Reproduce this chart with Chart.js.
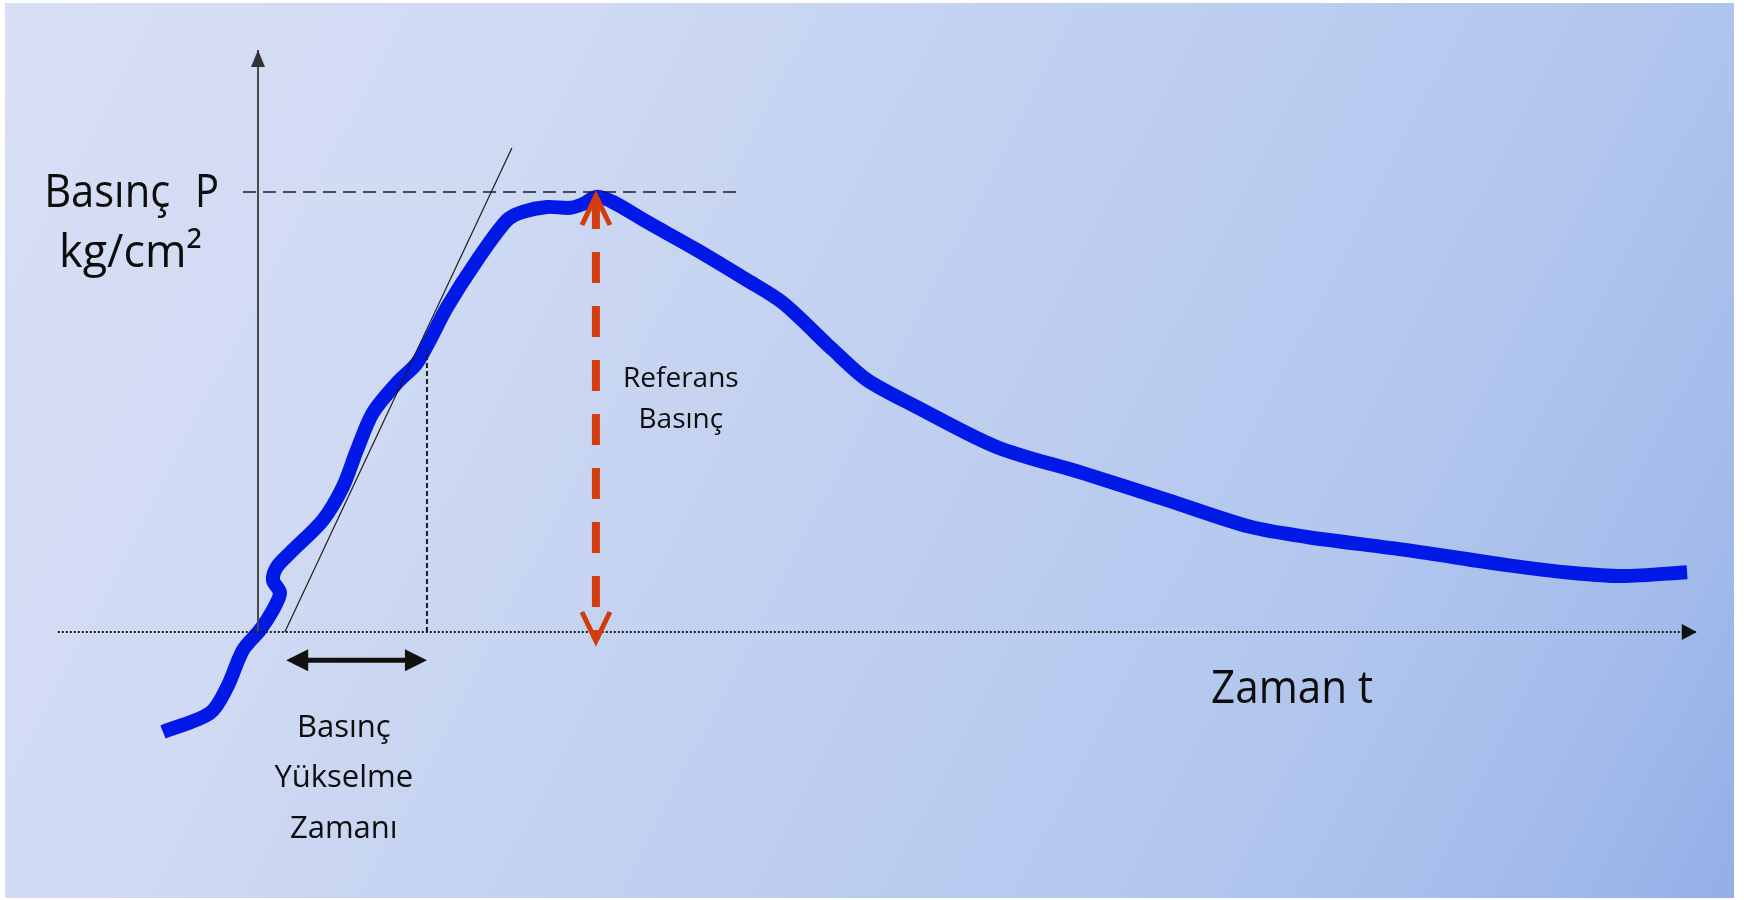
<!DOCTYPE html>
<html lang="tr">
<head>
<meta charset="utf-8">
<title>Basınç - Zaman</title>
<script src="https://cdn.jsdelivr.net/npm/chart.js@4.4.1/dist/chart.umd.min.js"></script>
<style>
  html, body { margin: 0; padding: 0; background: #fff; }
  #chart { display: block; }
</style>
</head>
<body>
<canvas id="chart" width="1744" height="900"></canvas>
<script>
// pressure trace (t and P in picture units, P = 100 at the reference level)
const time = [-21.6, -10.9, -7.0, -3.4, 0.5, 3.4, 5.0, 3.4, 4.3, 7.3, 14.8, 19.3, 22.5, 26.1, 31.6,
  36.1, 39.1, 43.0, 49.8, 56.6, 60.2, 65.7, 70.9, 73.9, 77.0, 80.7, 88.4, 99.8, 111.1, 119.3,
  130.7, 138.4, 149.8, 168.0, 187.5, 206.6, 225.5, 238.4, 261.1, 283.9, 298.9, 310.2, 324.8];
const pressure = [-22.7, -18.4, -12.5, -4.1, 0.5, 5.0, 8.9, 11.8, 14.8, 18.0, 25.5, 33.0, 41.4, 49.8, 56.6,
  61.1, 66.4, 73.9, 84.5, 93.6, 95.5, 96.6, 96.4, 97.3, 98.9, 97.7, 93.2, 86.8, 80.0, 74.8,
  64.1, 57.3, 51.1, 42.0, 36.1, 30.0, 23.9, 21.6, 18.6, 15.2, 13.4, 12.7, 13.6];

const referencePressure = 100;
const peakTime = 76.8;
const riseStart = 6.4;
const riseEnd = 38.4;
const riseEndPressure = 64.1;
const tangentTime = [6.1, 57.7];
const tangentPressure = [0, 110];
const axisTime = [-45.5, 327];
const axisPressure = [0, 132.3];
const levelTime = [-3.4, 108.9];

const yTitle = ['Basınç', 'P'];
const yUnit = 'kg/cm²';
const xTitle = 'Zaman t';
const riseLabel = ['Basınç', 'Yükselme', 'Zamanı'];
const refLabel = ['Referans', 'Basınç'];

const BLUE = '#0019e6';
const RED = '#d33c0c';
const INK = '#0d0d0d';
const FONT = '"Open Sans", sans-serif';

function seg(xs, ys) {
  return xs.map((v, i) => ({ x: v, y: ys[i] }));
}

function head(ctx, tipX, tipY, dx, dy, len, half) {
  const bx = tipX - dx * len, by = tipY - dy * len;
  ctx.beginPath();
  ctx.moveTo(tipX, tipY);
  ctx.lineTo(bx - dy * half, by + dx * half);
  ctx.lineTo(bx + dy * half, by - dx * half);
  ctx.closePath();
  ctx.fill();
}

function text(ctx, str, x, y, size, width, align) {
  ctx.font = '500 ' + size + 'px ' + FONT;
  ctx.textAlign = align;
  ctx.textBaseline = 'alphabetic';
  ctx.fillText(str, x, y, width);
}

const backdrop = {
  id: 'backdrop',
  beforeDraw(chart) {
    const { ctx, width, height } = chart;
    ctx.save();
    ctx.fillStyle = '#fff';
    ctx.fillRect(0, 0, width, height);
    const g = ctx.createLinearGradient(0, 0, width, height);
    g.addColorStop(0, '#d8dff5');
    g.addColorStop(0.25, '#d0daf3');
    g.addColorStop(0.5, '#c0d0f0');
    g.addColorStop(0.75, '#b2c6ee');
    g.addColorStop(0.9, '#a2bbeb');
    g.addColorStop(1, '#92aee8');
    ctx.fillStyle = g;
    ctx.fillRect(5, 3, width - 15, height - 5);
    ctx.restore();
  }
};

const notes = {
  id: 'notes',
  afterDatasetsDraw(chart) {
    const { ctx } = chart;
    const x = chart.scales.x, y = chart.scales.y;
    const px = v => x.getPixelForValue(v);
    const py = v => y.getPixelForValue(v);
    ctx.save();

    // axis arrow heads
    ctx.fillStyle = '#333';
    head(ctx, px(0), py(axisPressure[1]), 0, -1, 17, 7);
    ctx.fillStyle = '#111';
    head(ctx, px(axisTime[1]), py(0), 1, 0, 15, 8);

    // rise time double arrow
    const ay = py(-6.4), a0 = px(riseStart), a1 = px(riseEnd);
    ctx.strokeStyle = '#111';
    ctx.fillStyle = '#111';
    ctx.lineWidth = 5;
    ctx.beginPath();
    ctx.moveTo(a0 + 18, ay);
    ctx.lineTo(a1 - 18, ay);
    ctx.stroke();
    head(ctx, a0, ay, -1, 0, 22, 11);
    head(ctx, a1, ay, 1, 0, 22, 11);

    // reference pressure arrow
    const rx = px(peakTime), top = py(referencePressure) + 4, bot = py(0) + 9;
    ctx.strokeStyle = RED;
    ctx.lineWidth = 8;
    ctx.setLineDash([31, 23]);
    ctx.beginPath();
    ctx.moveTo(rx, top + 2);
    ctx.lineTo(rx, bot - 2);
    ctx.stroke();
    ctx.setLineDash([]);
    ctx.lineWidth = 5;
    ctx.lineJoin = 'miter';
    ctx.beginPath();
    ctx.moveTo(rx - 14, top + 29);
    ctx.lineTo(rx, top);
    ctx.lineTo(rx + 14, top + 29);
    ctx.moveTo(rx - 14, bot - 29);
    ctx.lineTo(rx, bot);
    ctx.lineTo(rx + 14, bot - 29);
    ctx.stroke();

    // labels
    ctx.fillStyle = INK;
    text(ctx, yTitle[0], px(-48.6), py(96.6), 46, 126, 'left');
    text(ctx, yTitle[1], px(-14.3), py(96.6), 46, 24, 'left');
    text(ctx, yUnit, px(-45.2), py(83.0), 46, 143, 'left');
    text(ctx, xTitle, px(216.6), py(-16.1), 46, 162, 'left');
    text(ctx, riseLabel[0], px(19.5), py(-23.9), 31, 100, 'center');
    text(ctx, riseLabel[1], px(19.5), py(-35.2), 31, 150, 'center');
    text(ctx, riseLabel[2], px(19.5), py(-46.8), 31, 117, 'center');
    text(ctx, refLabel[0], px(96.1), py(55.7), 28, 122, 'center');
    text(ctx, refLabel[1], px(96.1), py(46.4), 28, 90, 'center');
    ctx.restore();
  }
};

const flat = { pointRadius: 0, tension: 0, fill: false };

new Chart(document.getElementById('chart'), {
  type: 'line',
  data: {
    datasets: [
      {
        label: 'Basınç',
        data: seg(time, pressure),
        borderColor: BLUE,
        borderWidth: 14,
        borderCapStyle: 'butt',
        borderJoinStyle: 'round',
        pointRadius: 0,
        tension: 0.3,
        order: 9
      },
      { ...flat, data: seg(axisTime, [0, 0]), borderColor: '#1e1e1e', borderWidth: 2, borderDash: [2, 2], order: 1 },
      { ...flat, data: seg([0, 0], axisPressure), borderColor: '#4a4a4a', borderWidth: 2, order: 1 },
      { ...flat, data: seg(levelTime, [referencePressure, referencePressure]), borderColor: '#1e1e1e', borderWidth: 1.6, borderDash: [13, 7], order: 1 },
      { ...flat, data: seg(tangentTime, tangentPressure), borderColor: '#1e1e1e', borderWidth: 1.2, order: 1 },
      { ...flat, data: seg([riseEnd, riseEnd], [0, riseEndPressure]), borderColor: '#1e1e1e', borderWidth: 2, borderDash: [5, 3], order: 1 }
    ]
  },
  options: {
    responsive: false,
    devicePixelRatio: 1,
    animation: false,
    events: [],
    layout: { padding: 0 },
    plugins: {
      legend: { display: false },
      tooltip: { enabled: false }
    },
    scales: {
      x: { type: 'linear', display: false, min: -58.636, max: 337.727 },
      y: { type: 'linear', display: false, min: -60.909, max: 143.636 }
    }
  },
  plugins: [backdrop, notes]
});
</script>
</body>
</html>
